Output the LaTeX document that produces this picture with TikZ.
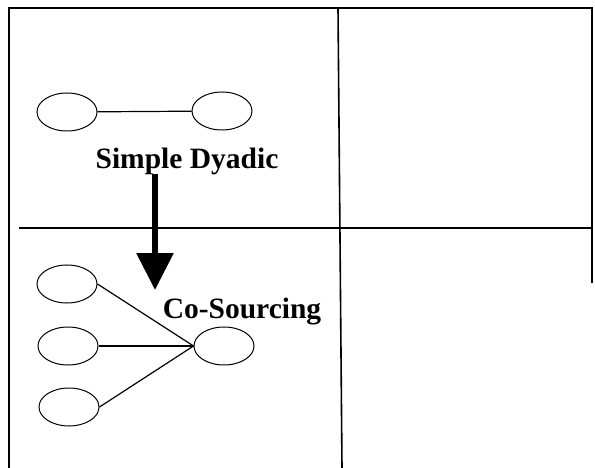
\documentclass[tikz,border=0pt]{standalone}
\usepackage{fontspec}
\setmainfont{Liberation Serif}
\usetikzlibrary{arrows.meta,shapes.geometric}
\begin{document}
\begin{tikzpicture}[x=1pt,y=-1pt,
  frame/.style={line width=1.6pt,black},
  actor/.style={draw,ellipse,line width=1pt,minimum width=60pt,minimum height=38pt,inner sep=0pt},
  tie/.style={line width=1.2pt},
  caption/.style={font=\bfseries\fontsize{29.5}{32}\selectfont,inner sep=0pt,anchor=base}]
\useasboundingbox (0,0) rectangle (595,468);
% grid of four quadrants (open at the bottom)
\draw[frame] (9,468) -- (9,8) -- (592,8) -- (592,283);
\draw[frame] (338,8) -- (342,468);
\draw[frame] (19,228) -- (592,228);
% simple dyadic relation
\node[actor] (a1) at (67,112) {};
\node[actor] (a2) at (222,111) {};
\draw[tie] (a1) -- (a2);
\node[caption] (dy) at (187,169) {Simple Dyadic};
% co-sourcing relation
\node[actor] (b1) at (67,284) {};
\node[actor] (b2) at (68,346) {};
\node[actor] (b3) at (69,407) {};
\node[actor] (c) at (224,346) {};
\draw[tie] (b1.east) -- (c.west);
\draw[tie] (b2.east) -- (c.west);
\draw[tie] (b3.east) -- (c.west);
\node[caption] (co) at (242,318) {Co-Sourcing};
% transition arrow
\coordinate (from) at (155,174);
\coordinate (to) at (155,290);
\draw[line width=6pt,-{Triangle[width=36pt,length=37pt]}] (from) -- (to);
\end{tikzpicture}
\end{document}
